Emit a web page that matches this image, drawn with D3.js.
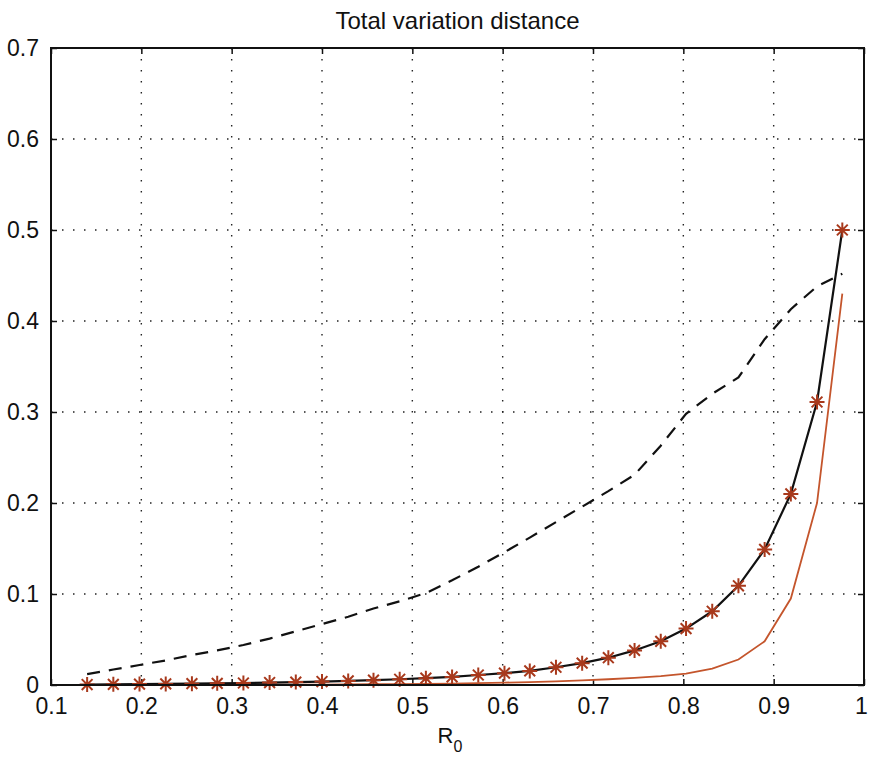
<!DOCTYPE html>
<html>
<head>
<meta charset="utf-8">
<script src="https://cdn.jsdelivr.net/npm/d3@7"></script>
<style>
  html, body { margin: 0; padding: 0; background: #ffffff; }
  svg { display: block; font-family: "Liberation Sans", Arial, Helvetica, sans-serif; }
</style>
</head>
<body>
<svg id="chart" width="869" height="758"></svg>
<script>
// ---- data ----
const r0 = [0.140, 0.169, 0.198, 0.227, 0.256, 0.284, 0.313, 0.342, 0.371, 0.400,
            0.429, 0.457, 0.486, 0.515, 0.544, 0.573, 0.602, 0.630, 0.659, 0.688,
            0.717, 0.746, 0.775, 0.803, 0.832, 0.861, 0.890, 0.919, 0.948, 0.976];
const tvExact = [0.0005, 0.0007, 0.0010, 0.0012, 0.0015, 0.0018, 0.0022, 0.0027, 0.0032, 0.0038,
                 0.0045, 0.0053, 0.0063, 0.0075, 0.0089, 0.0110, 0.0130, 0.0155, 0.0195, 0.0240,
                 0.0300, 0.0380, 0.0480, 0.0620, 0.0810, 0.1090, 0.1490, 0.2100, 0.3110, 0.5000];
const tvLower = [0.0001, 0.0001, 0.0001, 0.0002, 0.0002, 0.0002, 0.0003, 0.0003, 0.0004, 0.0005,
                 0.0006, 0.0008, 0.0010, 0.0013, 0.0016, 0.0020, 0.0026, 0.0032, 0.0040, 0.0050,
                 0.0063, 0.0078, 0.0098, 0.0125, 0.0180, 0.0280, 0.0480, 0.0950, 0.2000, 0.4300];
const tvBound = [0.012, 0.017, 0.022, 0.027, 0.033, 0.038, 0.044, 0.051, 0.059, 0.067,
                 0.075, 0.084, 0.092, 0.101, 0.115, 0.130, 0.146, 0.162, 0.179, 0.196,
                 0.213, 0.231, 0.263, 0.298, 0.320, 0.338, 0.380, 0.413, 0.438, 0.452];
const xTicks = [0.1, 0.2, 0.3, 0.4, 0.5, 0.6, 0.7, 0.8, 0.9, 1.0];
const xTickLabels = ["0.1", "0.2", "0.3", "0.4", "0.5", "0.6", "0.7", "0.8", "0.9", "1"];
const yTicks = [0, 0.1, 0.2, 0.3, 0.4, 0.5, 0.6, 0.7];
const yTickLabels = ["0", "0.1", "0.2", "0.3", "0.4", "0.5", "0.6", "0.7"];
const titleText = "Total variation distance";

// ---- layout ----
const pL = 51, pR = 864, pT = 48, pB = 685;
const svg = d3.select("#chart");
const x = d3.scaleLinear().domain([0.1, 1.0]).range([pL, pR]);
const y = d3.scaleLinear().domain([0, 0.7]).range([pB, pT]);

// grid (dotted)
const grid = svg.append("g").attr("stroke", "#222").attr("stroke-width", 1.4)
  .attr("stroke-dasharray", "1.5,9.5").attr("stroke-linecap", "butt");
xTicks.slice(1, -1).forEach(v => {
  grid.append("line").attr("x1", x(v)).attr("x2", x(v)).attr("y1", pT).attr("y2", pB);
});
yTicks.slice(1, -1).forEach(v => {
  grid.append("line").attr("x1", pL).attr("x2", pR).attr("y1", y(v)).attr("y2", y(v));
});

// axes
const fs = 23;
const xAxis = d3.axisBottom(x).tickValues(xTicks).tickFormat((d, i) => xTickLabels[i])
  .tickSizeInner(-6).tickSizeOuter(0).tickPadding(13);
const gx = svg.append("g").attr("transform", `translate(0,${pB})`).call(xAxis);
const xAxisTop = d3.axisTop(x).tickValues(xTicks).tickFormat("").tickSizeInner(-6).tickSizeOuter(0);
const gxt = svg.append("g").attr("transform", `translate(0,${pT})`).call(xAxisTop);
const yAxis = d3.axisLeft(y).tickValues(yTicks).tickFormat((d, i) => yTickLabels[i])
  .tickSizeInner(-6).tickSizeOuter(0).tickPadding(12);
const gy = svg.append("g").attr("transform", `translate(${pL},0)`).call(yAxis);
const yAxisR = d3.axisRight(y).tickValues(yTicks).tickFormat("").tickSizeInner(-6).tickSizeOuter(0);
const gyr = svg.append("g").attr("transform", `translate(${pR},0)`).call(yAxisR);
[gx, gxt, gy, gyr].forEach(g => {
  g.select(".domain").remove();
  g.selectAll(".tick line").attr("stroke", "#111").attr("stroke-width", 1.5);
  g.selectAll("text").attr("font-size", fs).attr("fill", "#111")
    .attr("font-family", "'Liberation Sans', Arial, Helvetica, sans-serif");
});
// keep the last x label inside the page
gx.selectAll(".tick text").filter((d, i) => i === xTicks.length - 1).attr("dx", -3);

// curves
const line = d3.line().x((d, i) => x(r0[i])).y(d => y(d));
const plot = svg.append("g");
plot.append("path").datum(tvBound).attr("d", line).attr("fill", "none")
  .attr("stroke", "#111").attr("stroke-width", 2.2).attr("stroke-dasharray", "13,9");
plot.append("path").datum(tvLower).attr("d", line).attr("fill", "none")
  .attr("stroke", "#c4552c").attr("stroke-width", 1.8);
plot.append("path").datum(tvExact).attr("d", line).attr("fill", "none")
  .attr("stroke", "#111").attr("stroke-width", 2.2);

// star markers
const s = 7.5, d7 = s * 0.72;
const star = `M${-s},0L${s},0M0,${-s}L0,${s}M${-d7},${-d7}L${d7},${d7}M${-d7},${d7}L${d7},${-d7}`;
plot.selectAll("path.star").data(tvExact).enter().append("path")
  .attr("class", "star")
  .attr("transform", (d, i) => `translate(${x(r0[i])},${y(d)})`)
  .attr("d", star).attr("fill", "none").attr("stroke", "#a8391c").attr("stroke-width", 2);

// frame
svg.append("rect").attr("x", pL).attr("y", pT).attr("width", pR - pL).attr("height", pB - pT)
  .attr("fill", "none").attr("stroke", "#111").attr("stroke-width", 2);

// title and label
svg.append("text").attr("x", (pL + pR) / 2).attr("y", 29).attr("text-anchor", "middle")
  .attr("font-size", 24).attr("fill", "#111").text(titleText);
const xl = svg.append("text").attr("x", 450).attr("y", 743).attr("text-anchor", "middle")
  .attr("font-size", 22).attr("fill", "#111");
xl.append("tspan").text("R");
xl.append("tspan").attr("font-size", 16).attr("dy", 9).text("0");
</script>
</body>
</html>
